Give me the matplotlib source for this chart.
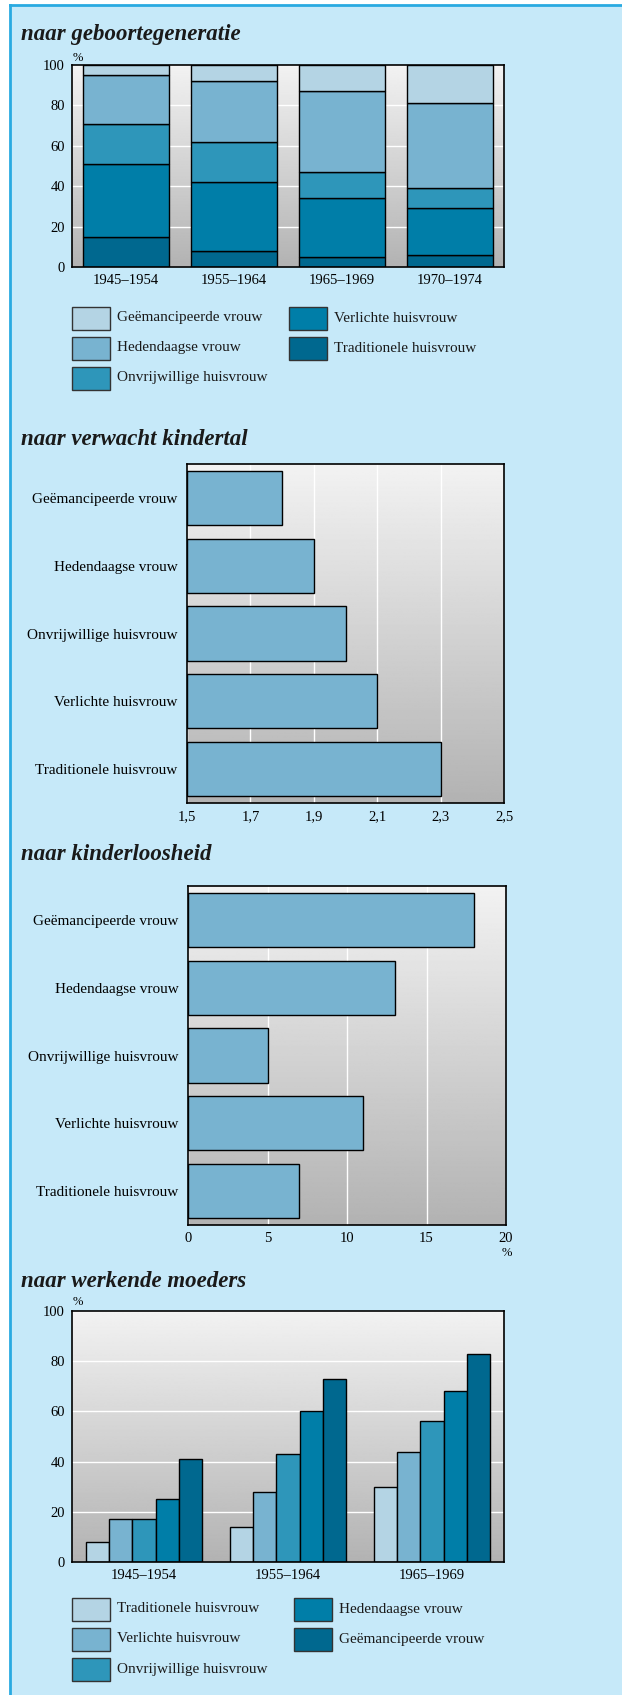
import numpy as np
import matplotlib
matplotlib.use("Agg")
import matplotlib.pyplot as plt
import matplotlib.transforms as mtransforms
from matplotlib.patches import Rectangle

plt.rcParams["font.family"] = ["Liberation Serif", "DejaVu Serif"]

# data
periods = ["1945–1954", "1955–1964", "1965–1969", "1970–1974"]
gen_trad = [15, 8, 5, 6]
gen_verl = [36, 34, 29, 23]
gen_onvr = [20, 20, 13, 10]
gen_hed = [24, 30, 40, 42]
gen_gem = [5, 8, 13, 19]

types = ["Geëmancipeerde vrouw", "Hedendaagse vrouw", "Onvrijwillige huisvrouw",
         "Verlichte huisvrouw", "Traditionele huisvrouw"]
kindertal = [1.8, 1.9, 2.0, 2.1, 2.3]
kinderloos = [18, 13, 5, 11, 7]

periods_w = ["1945–1954", "1955–1964", "1965–1969"]
werk_trad = [8, 14, 30]
werk_verl = [17, 28, 44]
werk_onvr = [17, 43, 56]
werk_hed = [25, 60, 68]
werk_gem = [41, 73, 83]

c1 = "#b4d4e4"
c2 = "#78b3d0"
c3 = "#2e96ba"
c4 = "#007ea8"
c5 = "#00688f"
bg = "#c6e9f9"

W, H = 622, 1695
fig = plt.figure(figsize=(W / 100, H / 100), dpi=100)
# pixel coords, y downwards
px = mtransforms.Affine2D().scale(1 / W, -1 / H).translate(0, 1) + fig.transFigure

fig.add_artist(Rectangle((10, 5), W, H, transform=px, facecolor=bg, edgecolor="none", zorder=0))
fig.add_artist(plt.Line2D([10, 10], [5, H], transform=px, color="#29aae1", lw=2))
fig.add_artist(plt.Line2D([10, W], [5, 5], transform=px, color="#29aae1", lw=2))


def make_ax(x0, y0, x1, y1):
    ax = fig.add_axes([x0 / W, 1 - y1 / H, (x1 - x0) / W, (y1 - y0) / H])
    grad = np.linspace(0.95, 0.70, 256).reshape(-1, 1)
    ax.imshow(grad, cmap="gray", vmin=0, vmax=1, extent=[0, 1, 0, 1],
              transform=ax.transAxes, aspect="auto", zorder=0)
    for s in ax.spines.values():
        s.set_linewidth(1.2)
        s.set_color("black")
    ax.tick_params(length=0, labelsize=10.5, pad=5)
    ax.set_axisbelow(True)
    return ax


def title(text, y):
    fig.text(21, y, text, transform=px, fontsize=16.5, fontweight="bold",
             fontstyle="italic", va="baseline", ha="left", color="#1a1a1a")


def legend(items, xs, ys):
    for i, (lab, col) in enumerate(items):
        x = xs[i // 3]
        y = ys[i % 3]
        fig.add_artist(Rectangle((x, y - 11.5), 38, 23, transform=px, facecolor=col,
                                 edgecolor="#333333", lw=1))
        fig.text(x + 45, y, lab, transform=px, fontsize=11, va="center", ha="left",
                 color="#1a1a1a")


# panel 1
title("naar geboortegeneratie", 40)
ax1 = make_ax(72, 65, 504, 267)
x = np.arange(len(periods))
bottom = np.zeros(len(periods))
for vals, col in [(gen_trad, c5), (gen_verl, c4), (gen_onvr, c3), (gen_hed, c2), (gen_gem, c1)]:
    ax1.bar(x, vals, width=0.8, bottom=bottom, color=col, edgecolor="black", lw=1, zorder=2)
    bottom += np.array(vals)
ax1.set_xlim(-0.5, 3.5)
ax1.set_ylim(0, 100)
ax1.set_yticks([0, 20, 40, 60, 80, 100])
ax1.set_xticks(x)
ax1.set_xticklabels(periods)
ax1.grid(axis="y", color="white", lw=1)
fig.text(78, 58, "%", transform=px, fontsize=9, ha="center", va="center")
legend([("Geëmancipeerde vrouw", c1), ("Hedendaagse vrouw", c2),
        ("Onvrijwillige huisvrouw", c3), ("Verlichte huisvrouw", c4),
        ("Traditionele huisvrouw", c5)], [72, 289], [318, 348, 378])

# panel 2
title("naar verwacht kindertal", 445)
ax2 = make_ax(187, 464, 504, 803)
y = np.arange(len(types))
ax2.barh(y, np.array(kindertal) - 1.5, left=1.5, height=0.8, color=c2,
         edgecolor="black", lw=1, zorder=2)
ax2.set_xlim(1.5, 2.5)
ax2.set_ylim(4.5, -0.5)
ax2.set_yticks(y)
ax2.set_yticklabels(types, fontsize=11)
ticks2 = [1.5, 1.7, 1.9, 2.1, 2.3, 2.5]
ax2.set_xticks(ticks2)
ax2.set_xticklabels([f"{t:.1f}".replace(".", ",") for t in ticks2])
ax2.grid(axis="x", color="white", lw=1)
ax2.tick_params(axis="y", pad=7)

# panel 3
title("naar kinderloosheid", 860)
ax3 = make_ax(188, 886, 506, 1225)
ax3.barh(y, kinderloos, height=0.8, color=c2, edgecolor="black", lw=1, zorder=2)
ax3.set_xlim(0, 20)
ax3.set_ylim(4.5, -0.5)
ax3.set_yticks(y)
ax3.set_yticklabels(types, fontsize=11)
ax3.set_xticks([0, 5, 10, 15, 20])
ax3.grid(axis="x", color="white", lw=1)
ax3.tick_params(axis="y", pad=7)
fig.text(507, 1253, "%", transform=px, fontsize=9, ha="center", va="center")

# panel 4
title("naar werkende moeders", 1287)
ax4 = make_ax(72, 1311, 504, 1562)
xw = np.arange(len(periods_w))
series = [(werk_trad, c1), (werk_verl, c2), (werk_onvr, c3), (werk_hed, c4), (werk_gem, c5)]
for i, (vals, col) in enumerate(series):
    ax4.bar(xw + (i - 2) * 0.16, vals, width=0.16, color=col, edgecolor="black", lw=1, zorder=2)
ax4.set_xlim(-0.5, 2.5)
ax4.set_ylim(0, 100)
ax4.set_yticks([0, 20, 40, 60, 80, 100])
ax4.set_xticks(xw)
ax4.set_xticklabels(periods_w)
ax4.grid(axis="y", color="white", lw=1)
fig.text(78, 1302, "%", transform=px, fontsize=9, ha="center", va="center")
legend([("Traditionele huisvrouw", c1), ("Verlichte huisvrouw", c2),
        ("Onvrijwillige huisvrouw", c3), ("Hedendaagse vrouw", c4),
        ("Geëmancipeerde vrouw", c5)], [72, 294], [1609, 1639, 1669])

fig.savefig("out.png", dpi=100)
